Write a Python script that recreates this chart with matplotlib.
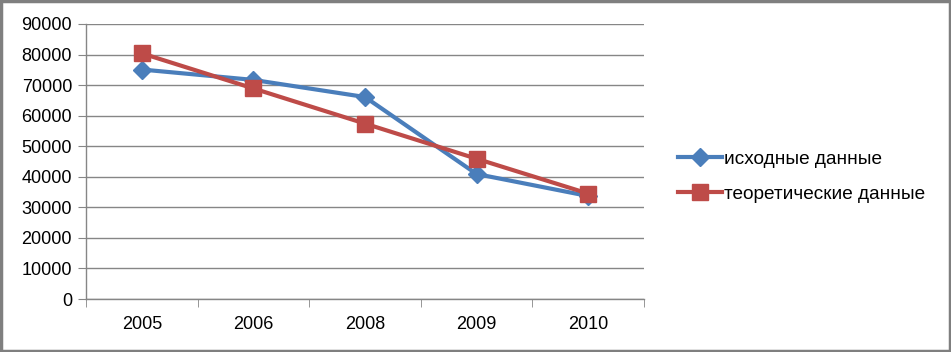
import matplotlib.pyplot as plt
from matplotlib.patches import Rectangle

years = ['2005', '2006', '2008', '2009', '2010']
ishodnye = [75100, 71700, 66100, 40900, 33700]
teoret = [80400, 68900, 57400, 45900, 34500]
yticks = list(range(0, 90001, 10000))

plt.rcParams['font.family'] = ['Liberation Sans', 'DejaVu Sans']

fig = plt.figure(figsize=(9.51, 3.52), dpi=100)
ax = fig.add_axes([86 / 951, 1 - 299 / 352, (644 - 86) / 951, (299 - 24) / 352])

# рамка вокруг всей диаграммы
fig.patches.append(Rectangle((0.0015, 0.003), 0.997, 0.993, transform=fig.transFigure,
                             fill=False, edgecolor='#7f7f7f', linewidth=2.5))

x = list(range(len(years)))
ax.plot(x, ishodnye, color='#4a7ebb', lw=3, marker='D', ms=9,
        label='исходные данные', zorder=3)
ax.plot(x, teoret, color='#be4b48', lw=3, marker='s', ms=11,
        label='теоретические данные', zorder=4)

ax.set_xlim(-0.5, len(years) - 0.5)
ax.set_ylim(0, 90000)
ax.set_yticks(yticks)
ax.set_yticklabels([str(v) for v in yticks])
ax.set_xticks(x)
ax.set_xticklabels(years)
ax.set_xticks([i - 0.5 for i in range(len(years) + 1)], minor=True)

ax.grid(axis='y', color='#868686', lw=1)
ax.set_axisbelow(True)
for s in ['top', 'right']:
    ax.spines[s].set_visible(False)
for s in ['left', 'bottom']:
    ax.spines[s].set_color('#868686')
    ax.spines[s].set_linewidth(1)

ax.tick_params(axis='y', length=6, color='#868686', labelsize=13, pad=4)
ax.tick_params(axis='x', which='major', length=0, labelsize=13, pad=12)
ax.tick_params(axis='x', which='minor', length=6, color='#868686')

ax.legend(loc='center left', bbox_to_anchor=(1.03, 0.445), frameon=False,
          fontsize=13.7, handlelength=2.3, handletextpad=0.1, labelspacing=0.95)

fig.savefig('out.png', dpi=100)
